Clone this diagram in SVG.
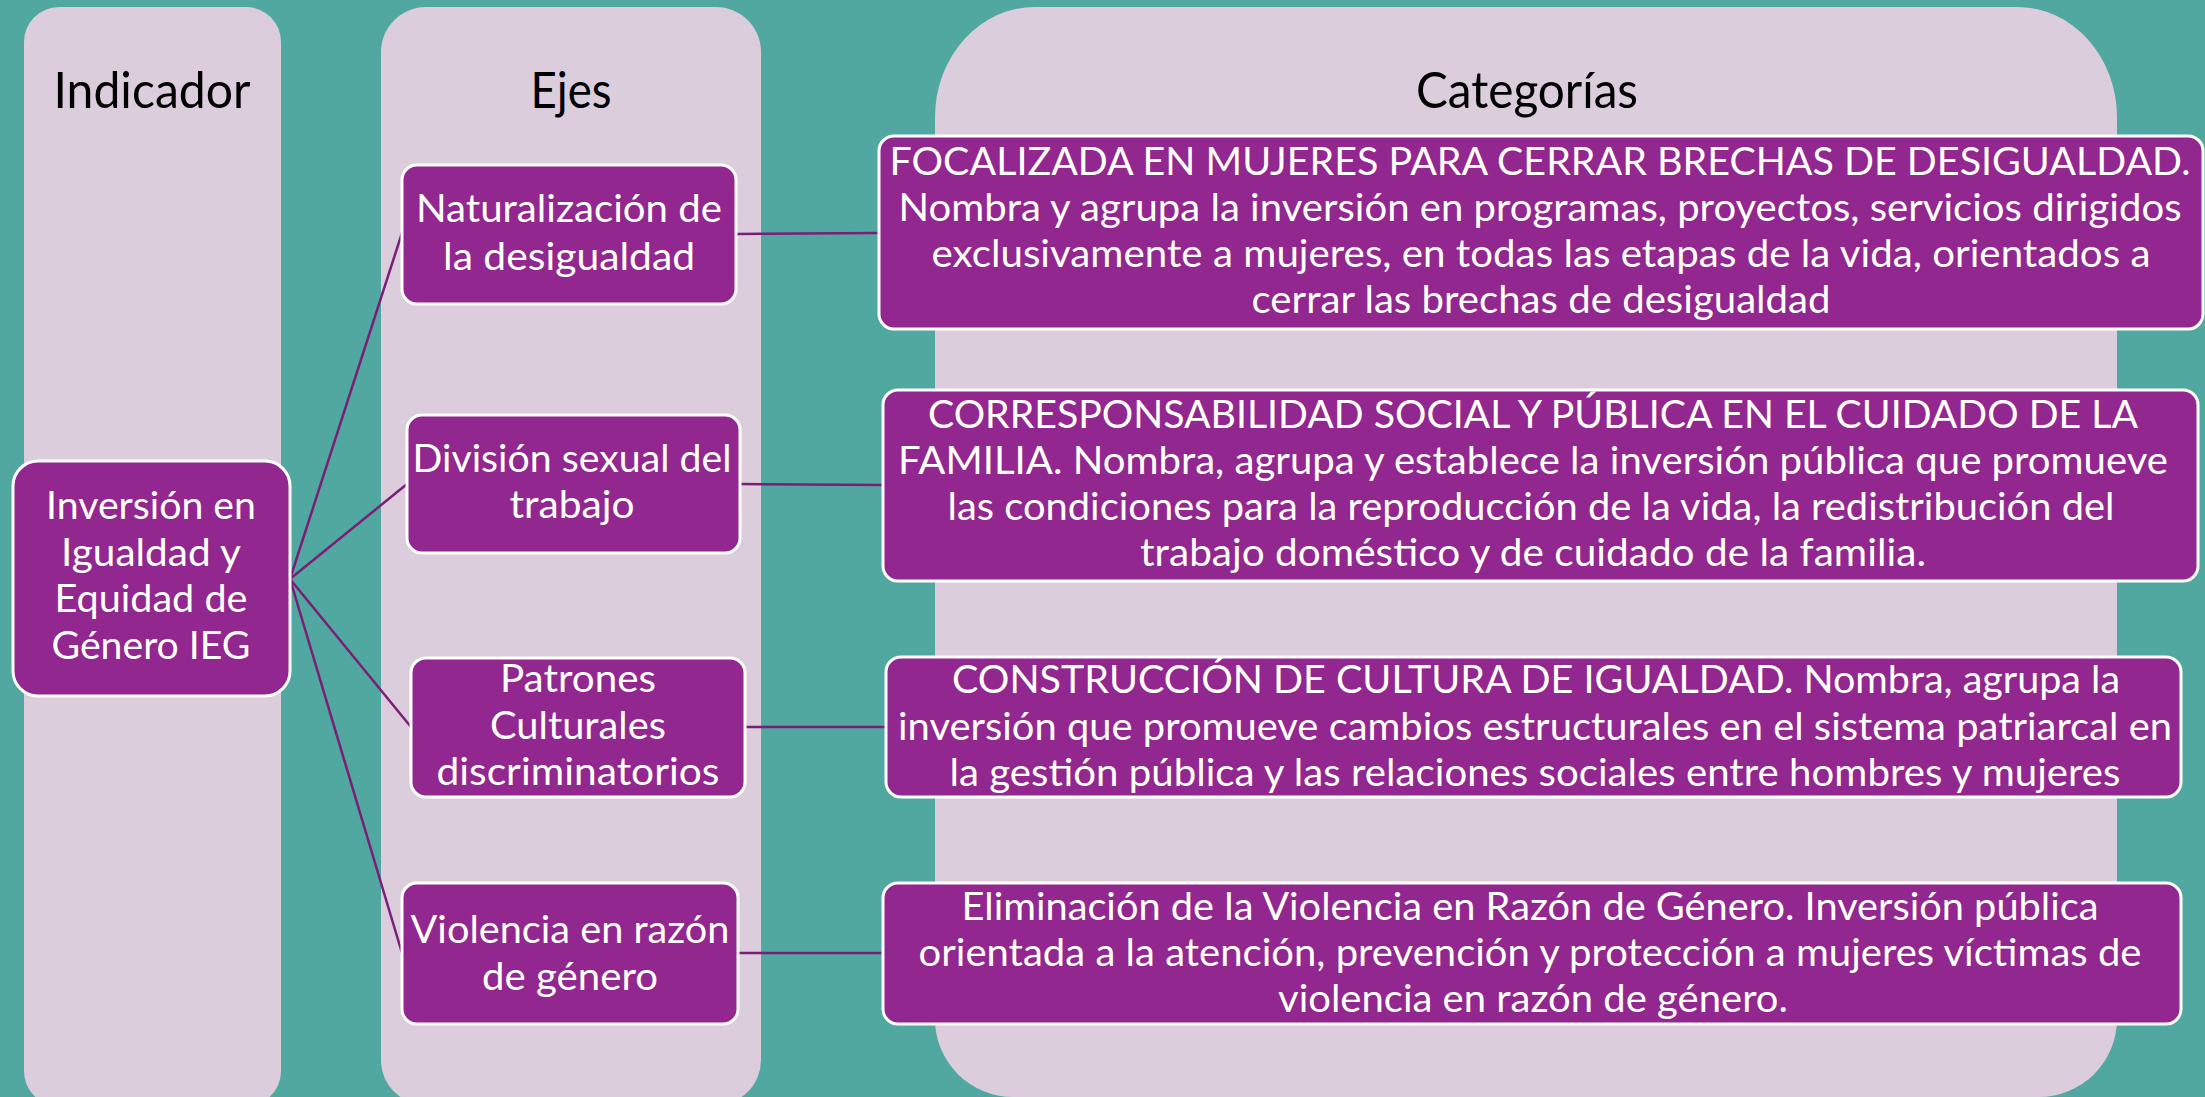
<svg xmlns="http://www.w3.org/2000/svg" width="2205" height="1097" viewBox="0 0 2205 1097">
  <style>
    .panel { fill: #DBCDDB; }
    .title { font-family: Lato, "Open Sans", sans-serif; font-size: 50px; fill: #000000; text-anchor: middle; }
    .box { fill: #92278F; stroke: #FFFFFF; stroke-width: 3; }
    .t { font-family: Lato, "Open Sans", sans-serif; font-size: 39.5px; fill: #FFFFFF; text-anchor: middle; }
    .conn { stroke: #7A1E77; stroke-width: 2.5; fill: none; }
  </style>
  <rect x="0" y="0" width="2205" height="1097" fill="#50A8A0"/>

  <g id="panels">
    <rect class="panel" x="24" y="7" width="257" height="1099" rx="35" ry="35"/>
    <rect class="panel" x="381" y="7" width="380" height="1098" rx="45" ry="45"/>
    <path class="panel" d="M1035 7 H2017 A100 110 0 0 1 2117 117 V1019 A78 78 0 0 1 2039 1097 H1013 A78 78 0 0 1 935 1019 V117 A100 110 0 0 1 1035 7 Z"/>
    <text class="title" x="152" y="108" textLength="197" lengthAdjust="spacingAndGlyphs">Indicador</text>
    <text class="title" x="571" y="108" textLength="81" lengthAdjust="spacingAndGlyphs">Ejes</text>
    <text class="title" x="1527" y="108" textLength="222" lengthAdjust="spacingAndGlyphs">Categorías</text>
  </g>

  <g id="connectors">
    <path class="conn" d="M290 579 L402 233"/>
    <path class="conn" d="M290 579 L407 484"/>
    <path class="conn" d="M290 579 L411 727"/>
    <path class="conn" d="M290 579 L402 953"/>
    <path class="conn" d="M736 234 L879 233"/>
    <path class="conn" d="M740 484 L883 485"/>
    <path class="conn" d="M745 727 L886 727"/>
    <path class="conn" d="M738 953 L883 953"/>
  </g>

  <g id="node-indicador">
    <rect class="box" x="13" y="461" width="277" height="235" rx="25" ry="25"/>
    <text class="t" x="151" y="519" textLength="210" lengthAdjust="spacingAndGlyphs">Inversión en</text>
    <text class="t" x="151" y="566" textLength="180" lengthAdjust="spacingAndGlyphs">Igualdad y</text>
    <text class="t" x="151" y="612" textLength="193" lengthAdjust="spacingAndGlyphs">Equidad de</text>
    <text class="t" x="151" y="659" textLength="199" lengthAdjust="spacingAndGlyphs">Género IEG</text>
  </g>

  <g id="node-eje1">
    <rect class="box" x="402" y="165" width="334" height="139" rx="15" ry="15"/>
    <text class="t" x="569" y="222" textLength="306" lengthAdjust="spacingAndGlyphs">Naturalización de</text>
    <text class="t" x="569" y="270" textLength="252" lengthAdjust="spacingAndGlyphs">la desigualdad</text>
  </g>

  <g id="node-eje2">
    <rect class="box" x="407" y="415" width="333" height="138" rx="15" ry="15"/>
    <text class="t" x="572" y="472" textLength="319" lengthAdjust="spacingAndGlyphs">División sexual del</text>
    <text class="t" x="572" y="518" textLength="125" lengthAdjust="spacingAndGlyphs">trabajo</text>
  </g>

  <g id="node-eje3">
    <rect class="box" x="411" y="658" width="334" height="139" rx="15" ry="15"/>
    <text class="t" x="578" y="692" textLength="156" lengthAdjust="spacingAndGlyphs">Patrones</text>
    <text class="t" x="578" y="739" textLength="176" lengthAdjust="spacingAndGlyphs">Culturales</text>
    <text class="t" x="578" y="785" textLength="283" lengthAdjust="spacingAndGlyphs">discriminatorios</text>
  </g>

  <g id="node-eje4">
    <rect class="box" x="402" y="883" width="336" height="141" rx="15" ry="15"/>
    <text class="t" x="570" y="943" textLength="319" lengthAdjust="spacingAndGlyphs">Violencia en razón</text>
    <text class="t" x="570" y="990" textLength="176" lengthAdjust="spacingAndGlyphs">de género</text>
  </g>

  <g id="node-cat1">
    <rect class="box" x="879" y="136" width="1324" height="193" rx="15" ry="15"/>
    <text class="t" x="1540" y="175" textLength="1301" lengthAdjust="spacingAndGlyphs">FOCALIZADA EN MUJERES PARA CERRAR BRECHAS DE DESIGUALDAD.</text>
    <text class="t" x="1540" y="221" textLength="1283" lengthAdjust="spacingAndGlyphs">Nombra y agrupa la inversión en programas, proyectos, servicios dirigidos</text>
    <text class="t" x="1541" y="267" textLength="1219" lengthAdjust="spacingAndGlyphs">exclusivamente a mujeres, en todas las etapas de la vida, orientados a</text>
    <text class="t" x="1541" y="313" textLength="579" lengthAdjust="spacingAndGlyphs">cerrar las brechas de desigualdad</text>
  </g>

  <g id="node-cat2">
    <rect class="box" x="883" y="390" width="1315" height="191" rx="15" ry="15"/>
    <text class="t" x="1533" y="428" textLength="1210" lengthAdjust="spacingAndGlyphs">CORRESPONSABILIDAD SOCIAL Y PÚBLICA EN EL CUIDADO DE LA</text>
    <text class="t" x="1533" y="474" textLength="1270" lengthAdjust="spacingAndGlyphs">FAMILIA. Nombra, agrupa y establece la inversión pública que promueve</text>
    <text class="t" x="1531" y="520" textLength="1167" lengthAdjust="spacingAndGlyphs">las condiciones para la reproducción de la vida, la redistribución del</text>
    <text class="t" x="1533" y="566" textLength="786" lengthAdjust="spacingAndGlyphs">trabajo doméstico y de cuidado de la familia.</text>
  </g>

  <g id="node-cat3">
    <rect class="box" x="886" y="657" width="1295" height="140" rx="15" ry="15"/>
    <text class="t" x="1536" y="693" textLength="1168" lengthAdjust="spacingAndGlyphs">CONSTRUCCIÓN DE CULTURA DE IGUALDAD. Nombra, agrupa la</text>
    <text class="t" x="1535" y="740" textLength="1274" lengthAdjust="spacingAndGlyphs">inversión que promueve cambios estructurales en el sistema patriarcal en</text>
    <text class="t" x="1535" y="786" textLength="1171" lengthAdjust="spacingAndGlyphs">la gestión pública y las relaciones sociales entre hombres y mujeres</text>
  </g>

  <g id="node-cat4">
    <rect class="box" x="883" y="883" width="1298" height="141" rx="15" ry="15"/>
    <text class="t" x="1530" y="920" textLength="1137" lengthAdjust="spacingAndGlyphs">Eliminación de la Violencia en Razón de Género. Inversión pública</text>
    <text class="t" x="1530" y="966" textLength="1223" lengthAdjust="spacingAndGlyphs">orientada a la atención, prevención y protección a mujeres víctimas de</text>
    <text class="t" x="1533" y="1012" textLength="510" lengthAdjust="spacingAndGlyphs">violencia en razón de género.</text>
  </g>
</svg>
